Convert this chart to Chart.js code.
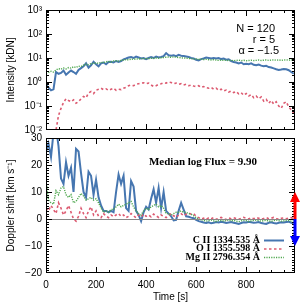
<!DOCTYPE html>
<html>
<head>
<meta charset="utf-8">
<script src="https://cdn.jsdelivr.net/npm/chart.js@4.4.1/dist/chart.umd.min.js"></script>
<style>
  html, body { margin: 0; padding: 0; background: #fff; }
  #wrap { position: relative; width: 305px; height: 305px; overflow: hidden; }
  canvas { position: absolute; left: 0; }
</style>
</head>
<body>
<div id="wrap">
  <canvas id="topChart" width="305" height="140" style="top:0"></canvas>
  <canvas id="bottomChart" width="305" height="177" style="top:128px"></canvas>
</div>
<script>
// Time samples [s]
const times = [
  0, 10, 20, 30, 40, 50, 60, 70, 80, 90,
  100, 110, 120, 130, 140, 150, 160, 170, 180, 190,
  200, 210, 220, 230, 240, 250, 260, 270, 280, 290,
  300, 310, 320, 330, 340, 350, 360, 370, 380, 390,
  400, 410, 420, 430, 440, 450, 460, 470, 480, 490,
  500, 510, 520, 530, 540, 550, 560, 570, 580, 590,
  600, 610, 620, 630, 640, 650, 660, 670, 680, 690,
  700, 710, 720, 730, 740, 750, 760, 770, 780, 790,
  800, 810, 820, 830, 840, 850, 860, 870, 880, 890,
  900, 910, 920, 930, 940, 950, 960, 970, 980, 990
];

// Intensity [kDN]
const intensityCII = [
  0.75, 0.6, 0.45, 0.5, 2.6, 2.2, 2.4, 3.0, 2.0, 2.5,
  3.0, 2.6, 2.2, 3.2, 3.8, 4.5, 6.0, 4.0, 5.0, 7.0,
  5.5, 4.5, 6.0, 6.5, 5.5, 6.8, 7.0, 6.5, 7.5, 6.8,
  7.5, 8.8, 9.5, 10.5, 11, 10, 11.5, 10.5, 9.5, 10,
  9.0, 10, 11, 10, 11.5, 10.5, 11, 12, 16, 13,
  12.5, 13, 12, 13.5, 12.5, 12, 11.5, 11, 10, 9.5,
  8.5, 8.0, 9.0, 9.5, 10.5, 10, 9.5, 10, 9.5, 10,
  9.0, 9.5, 8.5, 8.8, 7.5, 6.8, 6.5, 6.0, 6.5, 5.5,
  5.8, 5.5, 6.0, 5.2, 5.0, 5.3, 4.8, 4.5, 4.7, 4.2,
  4.0, 3.7, 3.4, 3.2, 3.3, 3.5, 3.4, 3.1, 2.6, 2.2
];
const intensityOI = [
  0.001, 0.001, 0.001, 0.003, 0.01, 0.04, 0.08, 0.14, 0.2, 0.17,
  0.15, 0.18, 0.13, 0.15, 0.2, 0.25, 0.22, 0.35, 0.4, 0.33,
  0.45, 0.5, 0.55, 0.48, 0.52, 0.45, 0.5, 0.55, 0.45, 0.5,
  0.48, 0.55, 0.6, 0.7, 0.75, 0.7, 0.8, 0.85, 0.9, 0.93,
  0.85, 0.9, 0.75, 0.65, 0.7, 0.8, 0.85, 0.93, 0.9, 1.0,
  0.95, 0.85, 0.9, 0.8, 0.85, 0.75, 0.8, 0.7, 0.75, 0.68,
  0.65, 0.7, 0.6, 0.65, 0.58, 0.55, 0.6, 0.5, 0.55, 0.45,
  0.5, 0.42, 0.46, 0.38, 0.42, 0.36, 0.4, 0.32, 0.36, 0.28,
  0.33, 0.26, 0.3, 0.22, 0.26, 0.2, 0.24, 0.16, 0.19, 0.13,
  0.17, 0.12, 0.15, 0.1, 0.08, 0.13, 0.15, 0.09, 0.07, 0.05
];
const intensityMgII = [
  2.3, 2.5, 2.8, 2.6, 3.2, 3.6, 3.4, 3.8, 3.5, 4.0,
  3.8, 4.3, 4.0, 4.6, 4.4, 5.0, 5.5, 5.2, 5.8, 6.0,
  6.2, 6.0, 6.6, 6.4, 7.0, 7.2, 6.8, 7.5, 7.8, 7.4,
  8.0, 8.2, 8.6, 8.4, 9.0, 8.8, 9.2, 9.0, 9.5, 9.3,
  9.6, 9.4, 9.8, 9.6, 10, 9.8, 10.2, 10.5, 10.8, 11,
  10.6, 11.2, 10.8, 10.5, 10.2, 10, 9.8, 9.6, 9.4, 9.0,
  9.2, 8.8, 9.0, 8.6, 8.8, 8.5, 8.3, 8.5, 8.2, 8.0,
  8.2, 7.9, 8.1, 7.8, 8.0, 7.7, 7.9, 8.1, 7.8, 8.0,
  7.7, 7.9, 8.1, 7.8, 8.0, 8.2, 7.9, 8.1, 8.3, 8.0,
  8.2, 8.4, 8.1, 8.3, 8.0, 8.2, 8.4, 8.1, 8.3, 8.5
];

// Doppler shift [km/s]
const dopplerCII = [
  25, 28, 23, 32, 34, 27, 15, 13, 21, 16,
  19, 10, 26, 25, 17, 10, 8, 17.5, 16, 9,
  14.5, 8, 5, 3, 3, 2.5, 3, 2.5, 10, 16.5,
  13, 16, 4, 3, 14, 12, 3, 1.5, -0.8, 2.5,
  4.5, 3.5, 7.5, 11, 6, 11.5, 4, 10, 3, 2,
  1, -0.5, -0.3, 3, 6, 3.5, 1, 0.8, 0.5, 0.3,
  -0.3, -0.8, -1.0, -1.3, -1.5, -1.2, -1.6, -1.4, -1.1, -1.3,
  -1.0, -1.2, -1.5, -1.3, -1.1, -1.4, -1.6, -1.8, -1.5, -1.2,
  -1.3, -1.0, -1.2, -1.4, -1.3, -1.1, -1.5, -1.7, -1.8, -1.4,
  -1.2, -1.5, -1.7, -1.4, -1.2, -1.3, -1.1, -1.0, -1.4, -1.6
];
const dopplerOI = [
  4, 3, 5, 3.5, 2, 6, 4, 1.5, 3, 5,
  2.5, 0, -0.8, 1, 4, 2, 0.5, 3, 4.5, 1.5,
  3, 1, 0.5, 2, 1, 0.5, 1.5, 0.8, 1.5, 2,
  1, 1.5, 0.5, 1, 2, 1.2, 0.5, 1.5, 0.8, 1.8,
  1, 1.5, 0.8, 1.8, 1.2, 0.6, 1.5, 1, 0.5, 1.3,
  2, 1.2, 0.6, 1.5, 2, 1.2, 1.8, 2.2, 1.8, 2,
  1, 0.5, 0, 0.3, -0.2, 0.4, 0.1, 0.5, -0.1, 0.3,
  0.6, 0.2, -0.2, 0.4, 0.1, 0.5, 0.2, -0.1, 0.3, 0.6,
  0.2, 0, 0.4, 0.1, 0.5, 0.3, -0.1, 0.2, 0.5, 0.1,
  0.3, 0.6, 0.2, -0.1, 0.3, 0.4, 0.1, 0.3, 0.5, 0.2
];
const dopplerMgII = [
  14, 7, 6, 5.5, 10.5, 9, 11.5, 12, 9, 8,
  9, 6, 6.5, 8, 9.5, 8.5, 7, 7.5, 8, 7,
  7.5, 6, 4, 2.5, 3, 2.5, 3.5, 3.5, 4.5, 5.5,
  4.5, 5, 5.5, 6, 6.5, 4.5, 3, 2, 1.5, 3,
  4, 3.5, 4.5, 5, 5.5, 4.5, 5, 4, 2, 2,
  1.5, 2, 2.5, 2.5, 3, 2.5, 2.5, 2, 1.8, 1.2,
  0.5, 0, -0.3, -0.5, -0.8, -0.6, -0.4, -0.7, -0.9, -0.6,
  -0.5, -0.8, -0.6, -0.4, -0.7, -0.5, -0.8, -1.0, -0.7, -0.5,
  -0.6, -0.9, -0.7, -0.5, -0.4, -0.6, -0.8, -0.6, -0.5, -0.7,
  -0.9, -0.6, -0.4, -0.6, -0.8, -0.7, -0.5, -0.6, -0.8, -0.7
];

const lineLabels = ['C II 1334.535 Å', 'O I 1355.598 Å', 'Mg II 2796.354 Å'];

// Tick labels / tick marks
const timeTicks = [0, 200, 400, 600, 800];
const timeMinor = [50, 100, 150, 250, 300, 350, 450, 500, 550, 650, 700, 750, 850, 900, 950];
const intensityTicks = [0.01, 0.1, 1, 10, 100, 1000];
const dopplerTicks = [-20, -10, 0, 10, 20, 30];

const colors = {
  blue: '#4676b0',
  red: '#dc5a70',
  green: '#4fa84f'
};

Chart.defaults.font.family = '"Liberation Sans", Arial, sans-serif';
Chart.defaults.font.size = 10;
Chart.defaults.color = '#000';

const SUP = { '-': '⁻', '0': '⁰', '1': '¹', '2': '²', '3': '³' };
function powerLabel(v) {
  const e = Math.round(Math.log10(v));
  return '10' + String(e).split('').map(c => SUP[c]).join('');
}

function points(ys) {
  return times.map((t, i) => ({ x: t, y: ys[i] }));
}

// minor ticks for log axis: 2..9 per decade
const logMinor = [];
intensityTicks.slice(0, -1).forEach(d => {
  for (let m = 2; m <= 9; m++) logMinor.push(d * m);
});
const dopplerMinor = [];
for (let v = -20; v <= 30; v++) if (v % 10 !== 0) dopplerMinor.push(v);

// IDL style box with inward ticks on all four sides
const idlFrame = {
  id: 'idlFrame',
  afterDatasetsDraw(chart, args, opts) {
    const { ctx, chartArea: a, scales } = chart;
    const xs = scales.x, ys = scales.y;
    ctx.save();
    ctx.strokeStyle = '#000';
    ctx.lineWidth = 1;
    if (opts.zeroLine) {
      const y0 = Math.round(ys.getPixelForValue(0)) + 0.5;
      ctx.strokeStyle = '#888';
      ctx.beginPath();
      ctx.moveTo(a.left, y0);
      ctx.lineTo(a.right, y0);
      ctx.stroke();
      ctx.strokeStyle = '#000';
    }
    ctx.strokeRect(a.left + 0.5, a.top + 0.5, a.right - a.left - 1, a.bottom - a.top - 1);
    ctx.beginPath();
    const xt = (vals, len) => vals.forEach(v => {
      const p = Math.round(xs.getPixelForValue(v)) + 0.5;
      ctx.moveTo(p, a.bottom); ctx.lineTo(p, a.bottom - len);
      ctx.moveTo(p, a.top); ctx.lineTo(p, a.top + len);
    });
    const yt = (vals, len) => vals.forEach(v => {
      const p = Math.round(ys.getPixelForValue(v)) + 0.5;
      if (p < a.top || p > a.bottom) return;
      ctx.moveTo(a.left, p); ctx.lineTo(a.left + len, p);
      ctx.moveTo(a.right, p); ctx.lineTo(a.right - len, p);
    });
    xt(opts.xMajor, 6);
    xt(opts.xMinor, 3);
    yt(opts.yMajor, 6);
    yt(opts.yMinor, 3);
    ctx.stroke();
    ctx.restore();
  }
};

// free text annotations
const notes = {
  id: 'notes',
  afterDraw(chart, args, opts) {
    const ctx = chart.ctx;
    ctx.save();
    ctx.fillStyle = '#000';
    ctx.textBaseline = 'middle';
    (opts.items || []).forEach(n => {
      ctx.font = n.font;
      ctx.textAlign = n.align || 'left';
      ctx.fillText(n.text, n.x, n.y);
    });
    ctx.restore();
  }
};

// legend: label text followed by a line sample
const lineLegend = {
  id: 'lineLegend',
  afterDraw(chart, args, opts) {
    if (!opts.show) return;
    const ctx = chart.ctx;
    ctx.save();
    ctx.font = opts.font;
    ctx.textAlign = 'right';
    ctx.textBaseline = 'middle';
    chart.data.datasets.forEach((ds, i) => {
      const y = opts.y + i * opts.dy;
      ctx.fillStyle = '#000';
      ctx.fillText(ds.label, opts.x, y);
      ctx.strokeStyle = ds.borderColor;
      ctx.lineWidth = ds.borderWidth;
      ctx.setLineDash(ds.borderDash || []);
      ctx.beginPath();
      ctx.moveTo(opts.x + 4, y + 0.5);
      ctx.lineTo(opts.x + 24, y + 0.5);
      ctx.stroke();
      ctx.setLineDash([]);
    });
    ctx.restore();
  }
};

// red (redshift) / blue (blueshift) arrow on the right axis
const shiftArrow = {
  id: 'shiftArrow',
  afterDraw(chart, args, opts) {
    if (!opts.show) return;
    const { ctx, chartArea: a, scales } = chart;
    const x = a.right;
    const y0 = scales.y.getPixelForValue(0);
    const draw = (tipVal, color) => {
      const tip = scales.y.getPixelForValue(tipVal);
      const dir = tip < y0 ? 1 : -1;
      ctx.fillStyle = color;
      ctx.fillRect(x - 1.5, Math.min(y0, tip + dir * 8), 3, Math.abs(y0 - tip) - 8);
      ctx.beginPath();
      ctx.moveTo(x, tip);
      ctx.lineTo(x - 5, tip + dir * 10);
      ctx.lineTo(x + 5, tip + dir * 10);
      ctx.closePath();
      ctx.fill();
    };
    ctx.save();
    draw(opts.up, '#ff0000');
    draw(opts.down, '#0000ff');
    ctx.restore();
  }
};

function datasets(blue, red, green) {
  return [
    { label: lineLabels[0], data: points(blue), borderColor: colors.blue, borderWidth: 2, order: 3 },
    { label: lineLabels[1], data: points(red), borderColor: colors.red, borderWidth: 1.6, borderDash: [2.5, 2.5], order: 2 },
    { label: lineLabels[2], data: points(green), borderColor: colors.green, borderWidth: 1.4, borderDash: [1.2, 1.2], order: 1 }
  ].map(d => Object.assign(d, { pointRadius: 0, fill: false, tension: 0 }));
}

const xScale = (showLabels) => ({
  type: 'linear',
  min: 0,
  max: 995,
  afterBuildTicks: s => { s.ticks = timeTicks.map(v => ({ value: v })); },
  afterFit: s => { s.height = showLabels ? 32 : 0; },
  grid: { display: false, drawTicks: false, tickLength: 0 },
  border: { display: false },
  ticks: { display: showLabels, padding: 6, maxRotation: 0, font: { size: 10 }, callback: v => v },
  title: { display: showLabels, text: 'Time [s]', font: { size: 10 }, padding: { top: 0, bottom: 2 } }
});

new Chart(document.getElementById('topChart'), {
  type: 'line',
  data: { datasets: datasets(intensityCII, intensityOI, intensityMgII) },
  options: {
    responsive: false,
    animation: false,
    layout: { padding: { left: 0, right: 10, top: 10, bottom: 9 } },
    scales: {
      x: xScale(false),
      y: {
        type: 'logarithmic',
        min: 0.01,
        max: 1000,
        afterBuildTicks: s => { s.ticks = intensityTicks.map(v => ({ value: v })); },
        afterFit: s => { s.width = 46; },
        grid: { display: false, drawTicks: false, tickLength: 0 },
        border: { display: false },
        ticks: { padding: 4, font: { size: 10 }, callback: v => powerLabel(v) },
        title: { display: true, text: 'Intensity [kDN]', font: { size: 10 }, padding: { top: 5, bottom: 0 } }
      }
    },
    plugins: {
      legend: { display: false },
      tooltip: { enabled: false },
      idlFrame: { xMajor: timeTicks, xMinor: timeMinor, yMajor: intensityTicks, yMinor: logMinor },
      notes: {
        items: [
          { text: 'N = 120', x: 275, y: 29, align: 'right', font: '11px "Liberation Sans"' },
          { text: 'r = 5', x: 275, y: 40, align: 'right', font: '11px "Liberation Sans"' },
          { text: 'α = −1.5', x: 279, y: 51, align: 'right', font: '11px "Liberation Sans"' }
        ]
      },
      lineLegend: { show: false },
      shiftArrow: { show: false }
    }
  },
  plugins: [idlFrame, notes, lineLegend, shiftArrow]
});

new Chart(document.getElementById('bottomChart'), {
  type: 'line',
  data: { datasets: datasets(dopplerCII, dopplerOI, dopplerMgII) },
  options: {
    responsive: false,
    animation: false,
    layout: { padding: { left: 0, right: 10, top: 9, bottom: 0 } },
    scales: {
      x: xScale(true),
      y: {
        type: 'linear',
        min: -20,
        max: 30,
        afterBuildTicks: s => { s.ticks = dopplerTicks.map(v => ({ value: v })); },
        afterFit: s => { s.width = 46; },
        grid: { display: false, drawTicks: false, tickLength: 0 },
        border: { display: false },
        ticks: { padding: 4, font: { size: 10 }, callback: v => String(v).replace('-', '−') },
        title: { display: true, text: 'Doppler shift [km s⁻¹]', font: { size: 10 }, padding: { top: 5, bottom: 0 } }
      }
    },
    plugins: {
      legend: { display: false },
      tooltip: { enabled: false },
      idlFrame: { xMajor: timeTicks, xMinor: timeMinor, yMajor: dopplerTicks, yMinor: dopplerMinor, zeroLine: true },
      notes: {
        items: [
          { text: 'Median log Flux = 9.90', x: 203, y: 34, align: 'center', font: 'bold 11px "Liberation Serif"' }
        ]
      },
      lineLegend: { show: true, x: 260, y: 112, dy: 8.5, font: 'bold 10px "Liberation Serif"' },
      shiftArrow: { show: true, up: 10, down: -10 }
    }
  },
  plugins: [idlFrame, notes, lineLegend, shiftArrow]
});
</script>
</body>
</html>
